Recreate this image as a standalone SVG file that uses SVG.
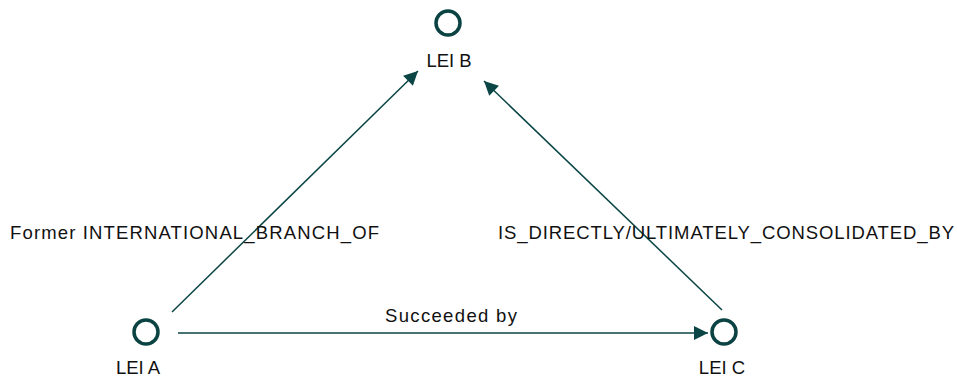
<svg xmlns="http://www.w3.org/2000/svg" width="957" height="378" viewBox="0 0 957 378">
<style>
.node{fill:none;stroke:#0b4343;stroke-width:3.5}
.lbl{font-family:"Liberation Sans",Arial,sans-serif;font-size:18.5px;fill:#111}
.edge{stroke:#0b4545;stroke-width:1.5;fill:none}
</style>
<defs>
<marker id="arr" viewBox="0 0 10 10" refX="10" refY="5" markerWidth="15" markerHeight="14" markerUnits="userSpaceOnUse" orient="auto">
<path d="M0,0 L10,5 L0,10 z" fill="#0b4545"/>
</marker>
</defs>
<rect width="957" height="378" fill="#fff"/>
<g id="connectors">
<line class="edge" x1="172" y1="312" x2="418" y2="71" marker-end="url(#arr)"/>
<line class="edge" x1="722" y1="310" x2="484" y2="81" marker-end="url(#arr)"/>
<line class="edge" x1="178" y1="333" x2="708" y2="333" marker-end="url(#arr)"/>
<text class="lbl" x="10" y="239" textLength="369">Former INTERNATIONAL_BRANCH_OF</text>
<text class="lbl" x="498" y="239" textLength="456">IS_DIRECTLY/ULTIMATELY_CONSOLIDATED_BY</text>
<text class="lbl" x="385" y="322" textLength="132">Succeeded by</text>
</g>
<g id="lei-b">
<circle class="node" cx="448" cy="23" r="12"/>
<text class="lbl" x="449" y="67" text-anchor="middle">LEI B</text>
</g>
<g id="lei-a">
<circle class="node" cx="146" cy="332" r="12"/>
<text class="lbl" x="138" y="374" text-anchor="middle">LEI A</text>
</g>
<g id="lei-c">
<circle class="node" cx="724" cy="332" r="12"/>
<text class="lbl" x="722" y="374" text-anchor="middle">LEI C</text>
</g>
</svg>
